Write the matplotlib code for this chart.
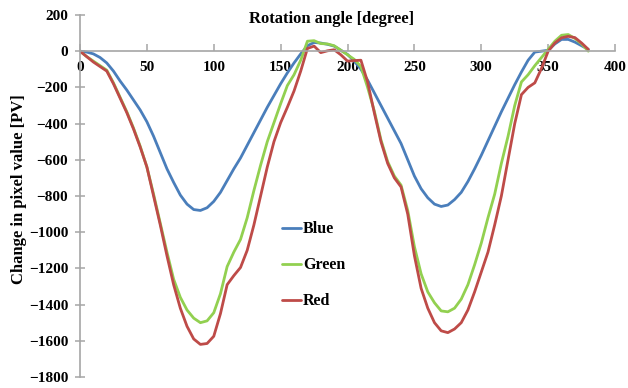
import matplotlib
matplotlib.use("Agg")
import matplotlib.pyplot as plt
import numpy as np

# rotation angle (degree), 5 degree steps
angle = np.arange(0, 385, 5)

blue = [
    0, -5, -15, -35, -65, -110, -165, -215, -270, -325,
    -390, -470, -560, -650, -725, -795, -845, -875, -880, -865,
    -830, -780, -715, -650, -590, -520, -450, -380, -310, -245,
    -180, -120, -65, -15, 30, 48, 45, 38, 28, 5,
    -18, -55, -100, -160, -230, -300, -370, -440, -510, -600,
    -690, -760, -810, -845, -858, -850, -820, -780, -720, -650,
    -575, -495, -415, -335, -260, -185, -115, -50, -5, 0,
    5, 40, 65, 65, 50, 30, 10,
]
green = [
    0, -30, -55, -80, -105, -175, -255, -335, -425, -525,
    -640, -790, -950, -1110, -1260, -1360, -1430, -1475, -1500, -1490,
    -1445, -1340, -1190, -1110, -1040, -920, -770, -630, -500, -395,
    -290, -190, -130, -50, 55, 58, 42, 40, 30, 5,
    -20, -45, -85, -200, -330, -490, -610, -690, -740, -880,
    -1080, -1230, -1330, -1390, -1435, -1440, -1420, -1370, -1290, -1180,
    -1060, -920, -790, -620, -470, -300, -170, -130, -80, -35,
    10, 55, 88, 92, 70, 40, 0,
]
red = [
    0, -30, -60, -85, -110, -180, -260, -340, -430, -530,
    -640, -800, -960, -1130, -1290, -1420, -1520, -1590, -1620, -1615,
    -1575, -1450, -1290, -1240, -1195, -1100, -960, -800, -640, -500,
    -395, -310, -220, -110, 15, 28, -8, 2, 8, -20,
    -55, -52, -50, -170, -340, -500, -620, -700, -750, -900,
    -1130, -1310, -1420, -1500, -1545, -1555, -1535, -1500, -1430, -1330,
    -1220, -1110, -960, -800, -600, -400, -240, -200, -175, -95,
    0, 45, 74, 82, 75, 45, 10,
]

series = [("Blue", blue, "#4A7EBB"), ("Green", green, "#92D050"), ("Red", red, "#BE4B48")]

plt.rcParams["font.family"] = ["Liberation Serif", "DejaVu Serif"]
plt.rcParams["font.weight"] = "bold"

fig = plt.figure(figsize=(6.28, 3.88), dpi=100)
ax = fig.add_axes([0.1274, 0.0284, 0.852, 0.933])

for name, values, color in series:
    ax.plot(angle, values, color=color, lw=2.0, label=name,
            solid_capstyle="round", solid_joinstyle="round")

ax.set_xlim(0, 400)
ax.set_ylim(-1800, 200)
ax.set_xticks(np.arange(0, 401, 50))
ax.set_yticks(np.arange(-1800, 201, 200))

ax.spines[["top", "right"]].set_visible(False)
ax.spines["bottom"].set_position(("data", 0))
for side in ("left", "bottom"):
    ax.spines[side].set_color("#A6A6A6")
    ax.spines[side].set_linewidth(1.2)

ax.tick_params(axis="x", direction="in", length=5, width=1.1, color="#A6A6A6",
               pad=7, labelsize=11)
ax.tick_params(axis="y", direction="inout", length=7, width=1.1, color="#A6A6A6",
               pad=5, labelsize=11)
for lbl in ax.get_xticklabels() + ax.get_yticklabels():
    lbl.set_fontweight("bold")

ax.set_xlabel("Rotation angle [degree]", fontsize=12, fontweight="bold")
ax.xaxis.set_label_coords(0.471, 1.012)
ax.set_ylabel("Change in pixel value [PV]", fontsize=12, fontweight="bold")
ax.yaxis.set_label_coords(-0.100, 0.52)

ax.legend(loc="upper left", bbox_to_anchor=(0.378, 0.43), frameon=False,
          borderpad=0, borderaxespad=0, handlelength=1.2, handletextpad=0.1,
          labelspacing=1.25, prop={"size": 11.5, "weight": "bold"})

fig.savefig("out.png", dpi=100)
